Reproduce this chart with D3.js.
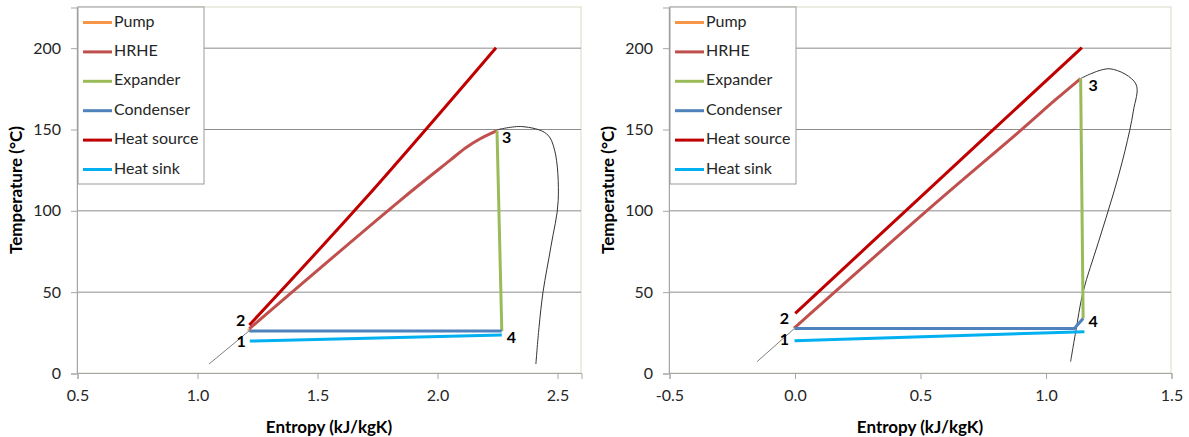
<!DOCTYPE html>
<html lang="en">
<head>
<meta charset="UTF-8">
<title>T-s diagrams</title>
<style>
  body { margin: 0; background: #fff; }
  text { font-family: Lato, "Open Sans", sans-serif; }
</style>
</head>
<body>
<svg id="chart"></svg>
<script src="https://cdn.jsdelivr.net/npm/d3@7"></script>
<script>
// ---- data: [entropy kJ/kgK, temperature °C] ----
const legendNames = ['Pump', 'HRHE', 'Expander', 'Condenser', 'Heat source', 'Heat sink'];
const yTicks = [0, 50, 100, 150, 200];

// left chart
const leftXTicks = [0.5, 1.0, 1.5, 2.0, 2.5];
const leftPump = [[1.216, 25.8], [1.218, 27.2]];
const leftHrhe = [[1.218, 27.2], [1.846, 106], [2.054, 130.7], [2.12, 138.5], [2.18, 144], [2.25, 149]];
const leftExpander = [[2.25, 149], [2.27, 25.8]];
const leftCondenser = [[2.27, 25.8], [1.218, 25.8]];
const leftSource = [[1.218, 29.5], [1.694, 106], [2.246, 200]];
const leftSink = [[1.22, 19.6], [2.27, 23.3]];
const leftDomeLiquid = [[1.05, 5.5], [1.218, 26]];
const leftDomeVapor = [[2.25, 149.5], [2.353, 151.5], [2.457, 147], [2.49, 137], [2.505, 106],
  [2.475, 78], [2.442, 50], [2.425, 28], [2.412, 5.5]];
const leftLabels = [['1', 1.184, 18.8], ['2', 1.182, 31.5], ['3', 2.29, 144], ['4', 2.31, 20.7]];

// right chart
const rightXTicks = [-0.5, 0.0, 0.5, 1.0, 1.5];
const rightPump = [[0.0, 27.4], [0.002, 28.6]];
const rightHrhe = [[0.0, 27.8], [0.57, 105.5], [0.9, 149], [1.04, 168], [1.14, 181]];
const rightExpander = [[1.14, 181], [1.15, 33.5]];
const rightCondenser = [[1.15, 33.5], [1.115, 27.4], [0.0, 27.4]];
const rightSource = [[0.003, 36.6], [0.487, 106], [1.145, 200]];
const rightSink = [[0.0, 19.8], [1.155, 25.4]];
const rightDomeLiquid = [[-0.149, 7], [0.0, 27.4]];
const rightDomeVapor = [[1.14, 181], [1.257, 187], [1.36, 177.7], [1.35, 161], [1.317, 136.8],
  [1.27, 110], [1.21, 80], [1.15, 50], [1.12, 25], [1.10, 7]];
const rightLabels = [['1', -0.04, 20], ['2', -0.04, 32.7], ['3', 1.19, 176], ['4', 1.19, 30.5]];

const colors = ['#F79646', '#C0504D', '#9BBB59', '#4F81BD', '#C00000', '#00B0F0'];

const svg = d3.select('#chart').attr('width', 1189).attr('height', 437);

function drawChart(opt) {
  const x = d3.scaleLinear().domain(opt.xDomain).range([opt.left, opt.right]);
  const y = d3.scaleLinear().domain([0, 225]).range([373, 7]);
  const g = svg.append('g');

  // plot border
  g.append('rect')
    .attr('x', opt.left).attr('y', 7)
    .attr('width', opt.right - opt.left).attr('height', 366)
    .attr('fill', 'none').attr('stroke', '#d9d9c6');

  // gridlines
  g.selectAll('.grid').data(yTicks.filter(d => d > 0)).enter()
    .append('line')
    .attr('x1', opt.left).attr('x2', opt.right)
    .attr('y1', d => y(d) + 0.5).attr('y2', d => y(d) + 0.5)
    .attr('stroke', '#8c8c8c');

  // axes
  const yAxis = d3.axisLeft(y).tickValues(yTicks).tickSize(6).tickPadding(10);
  const xAxis = d3.axisBottom(x).tickValues(opt.xTicks).tickSize(6).tickPadding(11)
    .tickFormat(d => d.toFixed(1));
  const ya = g.append('g').attr('transform', `translate(${opt.left},0.5)`).call(yAxis);
  const xa = g.append('g').attr('transform', `translate(0.5,373)`).call(xAxis);
  [ya, xa].forEach(a => {
    a.select('.domain').attr('stroke', '#a6a6a6');
    a.selectAll('.tick line').attr('stroke', '#a6a6a6');
    a.selectAll('text').attr('font-size', 16).attr('fill', '#262626').attr('font-family', 'Lato');
  });

  // axis titles
  g.append('text')
    .attr('transform', `translate(${opt.left - 59},190) rotate(-90)`)
    .attr('text-anchor', 'middle').attr('dominant-baseline', 'middle')
    .attr('font-size', 17).attr('font-weight', 'bold')
    .text('Temperature (°C)');
  g.append('text')
    .attr('x', (opt.left + opt.right) / 2).attr('y', 433)
    .attr('text-anchor', 'middle').attr('font-size', 17).attr('font-weight', 'bold')
    .text('Entropy (kJ/kgK)');

  const curved = d3.line().x(d => x(d[0])).y(d => y(d[1])).curve(d3.curveCatmullRom.alpha(0.5));
  const straight = d3.line().x(d => x(d[0])).y(d => y(d[1]));

  // saturation dome: liquid side (grey) and vapour side
  g.append('path').attr('d', straight(opt.domeLiquid))
    .attr('fill', 'none').attr('stroke', '#7f7f7f').attr('stroke-width', 1);
  g.append('path').attr('d', curved(opt.domeVapor))
    .attr('fill', 'none').attr('stroke', '#333').attr('stroke-width', 1);

  const series = [opt.pump, opt.hrhe, opt.expander, opt.condenser, opt.source, opt.sink];
  series.forEach((s, i) => {
    g.append('path').attr('d', (i === 1 || i === 4) ? curved(s) : straight(s))
      .attr('fill', 'none').attr('stroke', colors[i]).attr('stroke-width', 3)
      .attr('stroke-linejoin', 'round');
  });

  // state labels
  g.selectAll('.lbl').data(opt.labels).enter()
    .append('text')
    .attr('x', d => x(d[1])).attr('y', d => y(d[2]))
    .attr('text-anchor', 'middle').attr('dominant-baseline', 'middle')
    .attr('font-size', 16).attr('font-weight', 'bold').attr('fill', '#000')
    .text(d => d[0]);

  // legend
  const lg = g.append('g').attr('transform', `translate(${opt.left + 1},7)`);
  lg.append('rect').attr('width', 126).attr('height', 177)
    .attr('fill', '#fff').attr('stroke', '#9a9a9a');
  legendNames.forEach((name, i) => {
    const ly = 15.5 + i * 29.4;
    lg.append('line').attr('x1', 5).attr('x2', 34).attr('y1', ly).attr('y2', ly)
      .attr('stroke', colors[i]).attr('stroke-width', 3);
    lg.append('text').attr('x', 36).attr('y', ly).attr('dominant-baseline', 'middle')
      .attr('font-size', 16).attr('fill', '#262626').text(name);
  });
}

drawChart({
  xDomain: [0.5, 2.6], xTicks: leftXTicks, left: 77, right: 581,
  pump: leftPump, hrhe: leftHrhe, expander: leftExpander, condenser: leftCondenser,
  source: leftSource, sink: leftSink, domeLiquid: leftDomeLiquid, domeVapor: leftDomeVapor,
  labels: leftLabels
});
drawChart({
  xDomain: [-0.5, 1.5], xTicks: rightXTicks, left: 669, right: 1171,
  pump: rightPump, hrhe: rightHrhe, expander: rightExpander, condenser: rightCondenser,
  source: rightSource, sink: rightSink, domeLiquid: rightDomeLiquid, domeVapor: rightDomeVapor,
  labels: rightLabels
});
</script>
</body>
</html>
